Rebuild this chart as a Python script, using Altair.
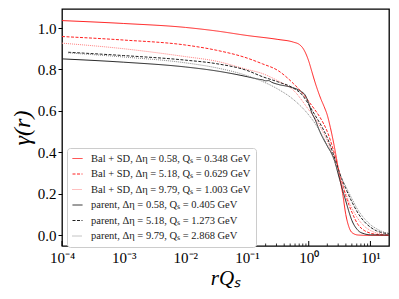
import altair as alt
import pandas as pd

# ---- legend labels / styles ----
labels = [
    "Bal + SD, Δη = 0.58, Qₛ = 0.348 GeV",
    "Bal + SD, Δη = 5.18, Qₛ = 0.629 GeV",
    "Bal + SD, Δη = 9.79, Qₛ = 1.003 GeV",
    "parent, Δη = 0.58, Qₛ = 0.405 GeV",
    "parent, Δη = 5.18, Qₛ = 1.273 GeV",
    "parent, Δη = 9.79, Qₛ = 2.868 GeV",
]
colors = ["#ff2020", "#ff2020", "#ff8080", "#222222", "#222222", "#888888"]
dashes = [[1, 0], [3, 1.5], [1, 1], [1, 0], [3, 1.5], [1, 1]]

# ---- data (log10 of r*Qs, gamma) ----
bal1_logx = [-4, -3, -2, -1.5, -1, -0.5, -0.25, -0.15, -0.1, 0, 0.05, 0.1, 0.15, 0.2, 0.25, 0.3, 0.35,
             0.4, 0.45, 0.5, 0.55, 0.6, 0.65, 0.7, 0.8, 1.0, 1.31]
bal1_y = [1.036, 1.022, 1.003, 0.986, 0.964, 0.945, 0.932, 0.92, 0.905, 0.84, 0.79, 0.74, 0.695, 0.655,
          0.62, 0.58, 0.52, 0.45, 0.37, 0.28, 0.2, 0.1, 0.04, 0.012, 0.0, -0.002, -0.002]

bal2_logx = [-4, -3, -2, -1.5, -1, -0.75, -0.5, -0.25, -0.1, 0, 0.1, 0.2, 0.3, 0.4, 0.5, 0.6, 0.7,
             0.8, 0.9, 1.0, 1.1, 1.31]
bal2_y = [0.959, 0.942, 0.918, 0.893, 0.855, 0.827, 0.795, 0.732, 0.685, 0.645, 0.605, 0.56, 0.5, 0.41,
          0.3, 0.19, 0.11, 0.05, 0.022, 0.009, 0.003, 0.0]

bal3_logx = [-4, -3, -2, -1.5, -1, -0.75, -0.5, -0.25, 0, 0.1, 0.2, 0.3, 0.4, 0.5, 0.6, 0.7, 0.8,
             0.9, 1.0, 1.1, 1.2, 1.31]
bal3_y = [0.927, 0.9, 0.862, 0.84, 0.8, 0.78, 0.745, 0.7, 0.605, 0.565, 0.515, 0.455, 0.375, 0.29,
          0.2, 0.13, 0.078, 0.043, 0.022, 0.01, 0.005, 0.002]

par1_logx = [-4, -3, -2, -1.5, -1, -0.85, -0.8, -0.75, -0.7, -0.65, -0.6, -0.5, -0.3, -0.15, -0.05,
             0, 0.05, 0.1, 0.18, 0.3, 0.4, 0.5, 0.6, 0.7, 0.8, 0.9, 1.0, 1.31]
par1_y = [0.851, 0.835, 0.812, 0.793, 0.765, 0.755, 0.752, 0.75, 0.745, 0.746, 0.738, 0.728, 0.715,
          0.698, 0.672, 0.635, 0.59, 0.56, 0.5, 0.43, 0.375, 0.27, 0.165, 0.07, 0.022, 0.006, 0.001, 0.0]

par2_logx = [-3.9, -3, -2, -1.5, -1, -0.75, -0.5, -0.25, -0.1, 0, 0.1, 0.2, 0.3, 0.4, 0.5, 0.6, 0.7,
             0.8, 0.9, 1.0, 1.1, 1.2, 1.31]
par2_y = [0.883, 0.867, 0.845, 0.828, 0.795, 0.765, 0.74, 0.71, 0.675, 0.63, 0.58, 0.53, 0.47, 0.39,
          0.3, 0.225, 0.16, 0.105, 0.065, 0.038, 0.02, 0.011, 0.006]

par3_logx = [-3.9, -3, -2, -1.5, -1, -0.75, -0.5, -0.25, 0, 0.1, 0.2, 0.3, 0.4, 0.5, 0.6, 0.7, 0.8,
             0.9, 1.0, 1.1, 1.2, 1.31]
par3_y = [0.88, 0.86, 0.832, 0.808, 0.77, 0.742, 0.705, 0.655, 0.58, 0.54, 0.49, 0.435, 0.37, 0.295,
          0.235, 0.175, 0.12, 0.08, 0.05, 0.03, 0.016, 0.008]

# ---- axis ticks ----
x_major = [1e-4, 1e-3, 1e-2, 1e-1, 1e0, 1e1]
x_major_labels = ["10⁻⁴", "10⁻³", "10⁻²", "10⁻¹", "10⁰", "10¹"]
x_minor = [k * 10.0 ** e for e in range(-4, 2) for k in range(2, 10) if k * 10.0 ** e < 20]
y_ticks = [0.0, 0.2, 0.4, 0.6, 0.8, 1.0]

series = [
    (labels[0], bal1_logx, bal1_y),
    (labels[1], bal2_logx, bal2_y),
    (labels[2], bal3_logx, bal3_y),
    (labels[3], par1_logx, par1_y),
    (labels[4], par2_logx, par2_y),
    (labels[5], par3_logx, par3_y),
]
rows = []
for name, lx, ys in series:
    for a, b in zip(lx, ys):
        rows.append({"x": 10.0 ** a, "y": b, "series": name})
df = pd.DataFrame(rows)

W, H = 327, 237
SERIF = "Liberation Serif"

label_expr = ""
for v, t in zip(x_major, x_major_labels):
    label_expr += f"abs(datum.value - {v}) < {v * 0.01} ? '{t}' : "
label_expr += "''"

xscale = alt.Scale(type="log", domain=[1e-4, 20], nice=False)
yscale = alt.Scale(domain=[-0.053, 1.092], nice=False, zero=False)

x_axis = alt.Axis(
    values=x_major, labelExpr=label_expr, ticks=False, grid=False, domain=False,
    title="rQₛ", titleFont=SERIF, titleFontSize=21, titleFontStyle="italic",
    titleFontWeight="normal", titleColor="black", titlePadding=2,
    labelFont=SERIF, labelFontSize=15, labelColor="black", labelPadding=4, labelFlush=False)

legend = alt.Legend(
    title=None, orient="none", legendX=5, legendY=139, fillColor="white", strokeColor="#cccccc",
    cornerRadius=3, padding=5, rowPadding=4.5, labelFont=SERIF, labelFontSize=10.5,
    labelColor="#222222", symbolType="stroke", symbolSize=100, symbolStrokeWidth=1, labelLimit=300,
    labelOffset=8)

lines = alt.Chart(df).mark_line(strokeWidth=1, clip=True, interpolate="monotone").encode(
    x=alt.X("x:Q", scale=xscale, axis=x_axis),
    y=alt.Y("y:Q", scale=yscale, axis=alt.Axis(
        values=y_ticks, format=".1f", ticks=True, tickSize=4, tickColor="black", tickWidth=1,
        grid=False, domain=False,
        title="γ(r)", titleFont=SERIF, titleFontSize=24, titleFontStyle="italic",
        titleFontWeight="normal", titleColor="black", titlePadding=3,
        labelFont=SERIF, labelFontSize=15, labelColor="black", labelPadding=2)),
    color=alt.Color("series:N", scale=alt.Scale(domain=labels, range=colors), legend=legend),
    strokeDash=alt.StrokeDash("series:N", scale=alt.Scale(domain=labels, range=dashes), legend=legend),
)

major_ticks = alt.Chart(pd.DataFrame({"x": x_major})).mark_rule(color="black", strokeWidth=1).encode(
    x=alt.X("x:Q", scale=xscale, axis=x_axis), y=alt.value(H), y2=alt.value(H - 5))
minor_ticks = alt.Chart(pd.DataFrame({"x": x_minor})).mark_rule(color="black", strokeWidth=0.8).encode(
    x=alt.X("x:Q", scale=xscale, axis=x_axis), y=alt.value(H), y2=alt.value(H - 2.5))

chart = alt.layer(lines, major_ticks, minor_ticks).properties(
    width=W, height=H,
    autosize=alt.AutoSizeParams(type="none"),
    padding={"left": 54, "top": 1, "right": 2, "bottom": 45},
).configure_view(stroke="black", strokeWidth=1.3)

chart.save("out.html", embed_options={"renderer": "svg", "actions": False})
